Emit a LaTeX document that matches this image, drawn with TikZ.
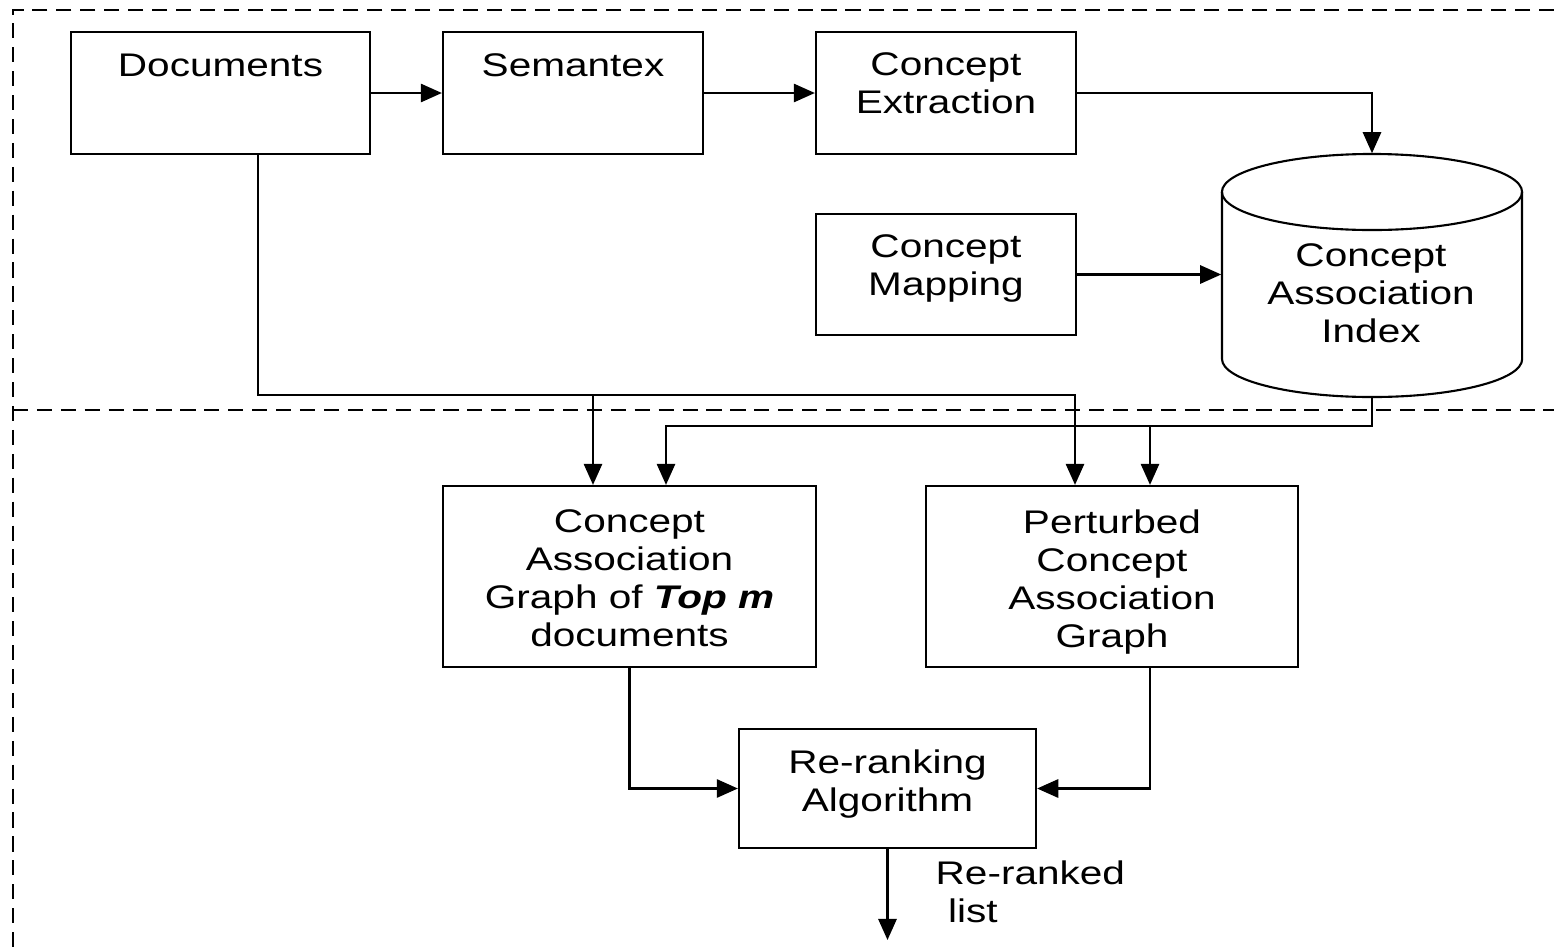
\documentclass[tikz,border=0pt]{standalone}
\usepackage{fontspec}
\setmainfont[FakeStretch=1.24]{Liberation Sans}
\usetikzlibrary{arrows.meta,calc}
\begin{document}
\begin{tikzpicture}[x=0.01cm,y=-0.01cm,
  box/.style={draw, line width=0.6pt, inner sep=0pt, rectangle},
  lbl/.style={inner sep=0pt, anchor=north, align=center, font=\fontsize{9.3}{10.8}\selectfont},
  arr/.style={line width=0.6pt, -{Triangle[length=6pt,width=5.2pt]}},
  conn/.style={line width=0.6pt},
  frame/.style={line width=0.8pt, dash pattern=on 4.3pt off 2.5pt}]
\useasboundingbox (0,0) rectangle (1554,951);
% frame
\draw[frame] (1554,10) -- (13,10) -- (13,951);
\draw[frame] (13,410) -- (1554,410);
% boxes
\node[box, minimum width=2.99cm, minimum height=1.22cm] (doc) at (220.5,93) {};
\node[lbl] (docl) at (220.5,53) {Documents};
\node[box, minimum width=2.60cm, minimum height=1.22cm] (sem) at (573,93) {};
\node[lbl] (seml) at (573,53) {Semantex};
\node[box, minimum width=2.60cm, minimum height=1.22cm] (ce) at (946,93) {};
\node[lbl] (cel) at (946,52) {Concept\\Extraction};
\node[box, minimum width=2.60cm, minimum height=1.21cm] (cm) at (946,274.5) {};
\node[lbl] (cml) at (946,234) {Concept\\Mapping};
% cylinder
\node[inner sep=0pt, minimum width=3.0cm, minimum height=2.43cm] (cai) at (1372,275.5) {};
\draw[conn] (1222,192) -- (1222,359) arc[start angle=180,end angle=360,x radius=1.5cm,y radius=0.38cm] -- (1522,192);
\draw[conn] (1372,192) ellipse [x radius=1.5cm, y radius=0.38cm];
\node[lbl] (cail) at (1371,243) {Concept\\Association\\Index};
% lower boxes
\node[box, minimum width=3.73cm, minimum height=1.81cm] (cag) at (629.5,576.5) {};
\node[lbl] (cagl) at (629.5,509) {Concept\\Association\\Graph of \textbf{\textit{Top m}}\\documents};
\node[box, minimum width=3.72cm, minimum height=1.81cm] (pcag) at (1112,576.5) {};
\node[lbl] (pcagl) at (1112,509) {Perturbed\\Concept\\Association\\Graph};
\node[box, minimum width=2.97cm, minimum height=1.19cm] (rr) at (887.5,788.5) {};
\node[lbl] (rrl) at (887.5,749) {Re-ranking\\Algorithm};
\node[lbl, anchor=north west, align=left] (outl) at (935,860) {Re-ranked\\\hspace{3.5pt}list};
% connectors
\draw[arr] (doc.east) -- (sem.west);
\draw[arr] (sem.east) -- (ce.west);
\draw[arr] (ce.east) -| (cai.north);
\draw[arr] (cm.east) -- (cm.east -| cai.west);
\coordinate (d2) at (1075,395);
\coordinate (d3) at (593,395);
\draw[arr] ([xshift=0.375cm]doc.south) |- (d2) -- (d2 |- pcag.north);
\draw[arr] (d3) -- (d3 |- cag.north);
\coordinate (i1) at (666,426);
\coordinate (i2) at (1150,426);
\draw[arr] (cai.south) |- (i1) -- (i1 |- cag.north);
\draw[arr] (i2) -- (i2 |- pcag.north);
\draw[arr] (cag.south) |- (rr.west);
\draw[arr] (pcag.south -| i2) |- (rr.east);
\coordinate (outend) at (887.5,940);
\draw[arr] (rr.south) -- (outend);
\end{tikzpicture}
\end{document}
